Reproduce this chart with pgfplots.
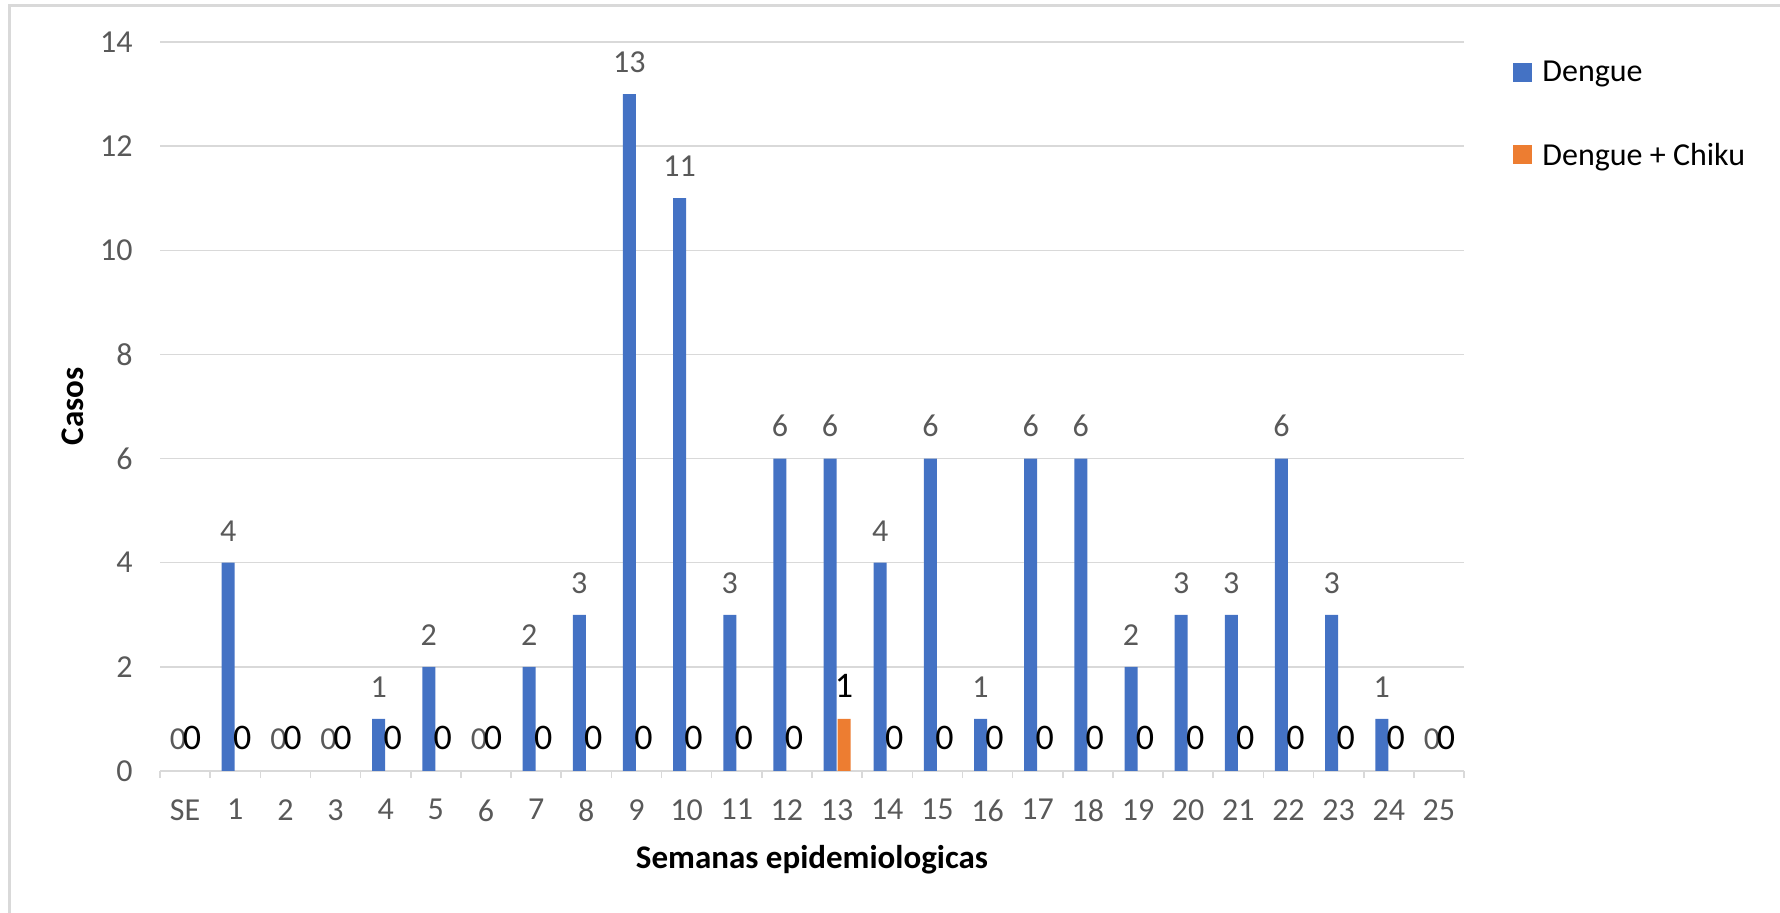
\documentclass[border=0pt]{standalone}
\usepackage{fontspec}
\setmainfont{Carlito}
\usepackage{pgfplots}
\pgfplotsset{compat=1.18}
\usepackage{pgfplotstable}

\definecolor{dblue}{HTML}{4472C4}
\definecolor{dorange}{HTML}{ED7D31}
\definecolor{txtgray}{HTML}{595959}
\definecolor{gridgray}{HTML}{D9D9D9}

% semana, dengue, dengue + chiku
\pgfplotstableread{
x dengue chiku
0 0 0
1 4 0
2 0 0
3 0 0
4 1 0
5 2 0
6 0 0
7 2 0
8 3 0
9 13 0
10 11 0
11 3 0
12 6 0
13 6 1
14 4 0
15 6 0
16 1 0
17 6 0
18 6 0
19 2 0
20 3 0
21 3 0
22 6 0
23 3 0
24 1 0
25 0 0
}\casos

\begin{document}
\begin{tikzpicture}
\path[use as bounding box] (-80bp,-71bp) rectangle (810bp,385.5bp);
\begin{axis}[
  at={(0,0)}, anchor=south west,
  scale only axis,
  width=652bp, height=364.5bp,
  ybar=0.5bp, bar width=6.5bp,
  xmin=-0.5, xmax=25.5,
  ymin=0, ymax=14,
  ytick={0,2,...,14},
  xtick={0,...,25},
  xticklabels={SE,1,2,3,4,5,6,7,8,9,10,11,12,13,14,15,16,17,18,19,20,21,22,23,24,25},
  minor xtick={-0.5,0.5,...,25.5},
  tick align=outside,
  major tick length=0pt,
  minor tick length=3.5bp,
  minor tick style={gridgray, line width=0.8bp},
  axis x line*=bottom,
  axis y line*=left,
  x axis line style={gridgray, line width=0.8bp, -},
  y axis line style={draw=none},
  ymajorgrids,
  major grid style={gridgray, line width=0.7bp},
  /pgf/number format/assume math mode=true,
  ticklabel style={font=\fontsize{16bp}{19bp}\selectfont, text=txtgray, inner sep=0pt},
  yticklabel style={xshift=-13.5bp},
  xticklabel style={yshift=-14bp},
  xlabel={Semanas epidemiologicas},
  ylabel={Casos},
  label style={font=\bfseries\fontsize{16.5bp}{19bp}\selectfont},
  xlabel style={at={(axis description cs:0.5,-0.1221)}, anchor=center},
  ylabel style={at={(axis description cs:-0.0667,0.5)}, anchor=center},
  legend style={draw=none, fill=none, inner sep=0pt, at={(1.0376,0.974)}, anchor=north west,
    font=\fontsize{16bp}{19bp}\selectfont, row sep=29bp, column sep=5bp,
    nodes={inner sep=0pt, anchor=west}},
  legend image code/.code={\fill[#1] (0bp,-4.5bp) rectangle (9.5bp,5bp);},
  legend cell align=left,
]
\addplot[fill=dblue, draw=none,
  nodes near coords,
  every node near coord/.append style={font=\fontsize{16bp}{19bp}\selectfont, text=txtgray,
    inner sep=0pt, anchor=south, yshift=10.5bp}]
  table[x=x, y=dengue] {\casos};
\addplot[fill=dorange, draw=none,
  nodes near coords,
  every node near coord/.append style={font=\fontsize{18bp}{21bp}\selectfont, text=black,
    inner sep=0pt, anchor=south, yshift=10.5bp}]
  table[x=x, y=chiku] {\casos};
\legend{Dengue, Dengue + Chiku}
\end{axis}
\draw[gridgray, line width=1.5bp] (-75bp,-90bp) -- (-75bp,382.75bp) -- (830bp,382.75bp);
\end{tikzpicture}
\end{document}
